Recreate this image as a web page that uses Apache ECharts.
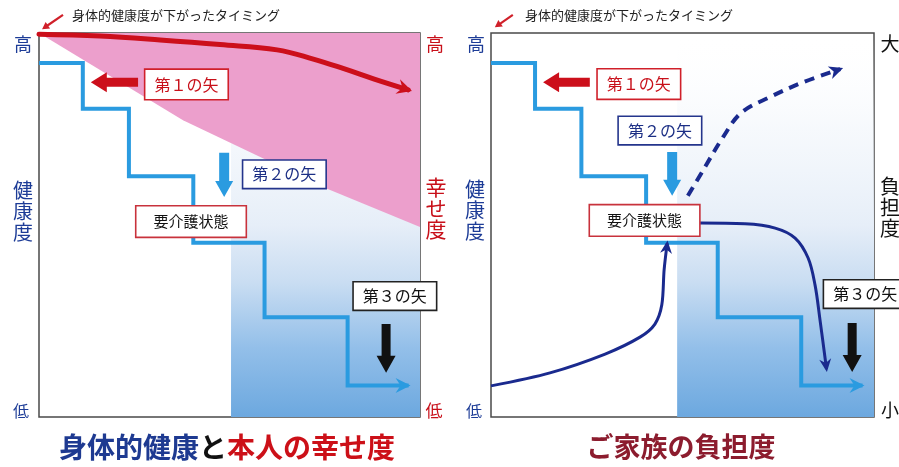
<!DOCTYPE html>
<html><head><meta charset="utf-8">
<script src="https://cdn.jsdelivr.net/npm/echarts@6/dist/echarts.min.js"></script>
<style>html,body{margin:0;padding:0;background:#fff}#c{width:899px;height:467px}</style>
</head><body><div id="c"></div>
<script>
// ---------- data (axis units 0..100 : time → x, level → y) ----------
const stepX = [0, 11.5, 23.6, 40.5, 59.2, 81, 97];          // health drops (both panels)
const stepY = [92.2, 80.3, 62.7, 45.4, 26, 8.2, 8.2];
const happyX = [0, 16, 31.8, 47.5, 62.5, 72, 80, 88, 96.9];     // 本人の幸せ度 curve
const happyY = [99.7, 99.2, 98.2, 97.0, 95.6, 93.2, 90.7, 88.0, 85.2];
const happyBoundX = [0, 37.8, 75.3, 100];                    // lower edge of pink zone
const happyBoundY = [100, 77.3, 59.6, 49.5];
const careStartLeft = 50.4;                                  // 要介護 zone start
const careStartRight = 48.6;
const burdenRiseX = [0, 15.4, 29.8, 38.9, 42.8, 44.6, 45.2, 46.0];
const burdenRiseY = [8.1, 11.5, 16.4, 20.8, 24.2, 29.2, 38.3, 45.2];
const burdenFallX = [54.6, 66.3, 74.2, 79.4, 82.8, 84.6, 85.9, 87.6];
const burdenFallY = [50.5, 50.3, 49.2, 46.6, 41.4, 34.4, 25.3, 12.5];
const noCareX = [51.4, 55.4, 60.6, 65.3, 72.8, 81.5, 91.2];
const noCareY = [57.6, 64.3, 72.9, 79.2, 83.3, 87.2, 90.6];
// big arrows [x1, y1, x2, y2]
const arrow1Left = [26, 87.2, 13.6, 87.2];
const arrow2Left = [48.6, 68.8, 48.6, 57.3];
const arrow3Left = [91.1, 24.2, 91.1, 11.5];
const arrow1Right = [25.8, 87.2, 13.6, 87.2];
const arrow2Right = [47.3, 69.0, 47.3, 57.6];
const arrow3Right = [94.3, 24.5, 94.3, 11.7];
const timingArrowLeft = [6.3, 104.7, 0.8, 101.0];
const timingArrowRight = [5.7, 104.7, 1.0, 101.5];
// annotation labels [x, y]
const labelNames = ['第１の矢', '第２の矢', '要介護状態', '第３の矢'];
const labelPosLeft = [[38.7, 86.6], [64.4, 63.2], [39.9, 50.9], [93.4, 31.5]];
const labelPosRight = [[38.6, 86.7], [44.1, 74.6], [40.1, 51.2], [97.7, 32.0]];

// ---------- helpers ----------
const zip = (xs, ys) => xs.map((x, i) => [x, ys[i]]);
const FONT = '"Noto Sans CJK JP", "Noto Sans", sans-serif';

function arrowPolygon(p1, p2, o) {
  const dx = p2[0] - p1[0], dy = p2[1] - p1[1], L = Math.hypot(dx, dy) || 1;
  const ux = dx / L, uy = dy / L, nx = -uy, ny = ux;
  const ext = o.ext || 0;
  const tip = [p2[0] + ux * ext, p2[1] + uy * ext];
  const bx = tip[0] - ux * o.headL, by = tip[1] - uy * o.headL;
  const hw = o.headW / 2, sw = (o.shaftW || 0) / 2;
  if (o.shaftW > 0) {
    return [[p1[0] + nx * sw, p1[1] + ny * sw], [bx + nx * sw, by + ny * sw], [bx + nx * hw, by + ny * hw], tip,
            [bx - nx * hw, by - ny * hw], [bx - nx * sw, by - ny * sw], [p1[0] - nx * sw, p1[1] - ny * sw]];
  }
  const nk = o.notch || 0;
  return [[bx + nx * hw, by + ny * hw], tip, [bx - nx * hw, by - ny * hw], [bx + ux * nk, by + uy * nk]];
}
function arrowSeries(gi, seg, color, o) {
  return {
    type: 'custom', coordinateSystem: 'cartesian2d', xAxisIndex: gi, yAxisIndex: gi, z: o.z || 6,
    silent: true, clip: false, data: [seg],
    renderItem: (params, api) => {
      const p1 = api.coord([api.value(0), api.value(1)]);
      const p2 = api.coord([api.value(2), api.value(3)]);
      return { type: 'polygon', shape: { points: arrowPolygon(p1, p2, o) }, style: { fill: color } };
    }
  };
}
function headFor(gi, xs, ys, color, o) {
  const n = xs.length;
  return arrowSeries(gi, [xs[n - 2], ys[n - 2], xs[n - 1], ys[n - 1]], color, o);
}
function lineSeries(gi, xs, ys, extra) {
  return Object.assign({
    type: 'line', xAxisIndex: gi, yAxisIndex: gi, data: zip(xs, ys), symbol: 'none', showSymbol: false,
    silent: true, z: 4, clip: false
  }, extra);
}
function careZone(gi, x0) {
  return {
    type: 'custom', coordinateSystem: 'cartesian2d', xAxisIndex: gi, yAxisIndex: gi, z: 1, silent: true,
    data: [[x0, 0, 100, 100]],
    renderItem: (params, api) => {
      const a = api.coord([api.value(0), api.value(3)]);
      const b = api.coord([api.value(2), api.value(1)]);
      return {
        type: 'rect', shape: { x: a[0], y: a[1], width: b[0] - a[0], height: b[1] - a[1] },
        style: {
          fill: new echarts.graphic.LinearGradient(0, 0, 0, 1, [
            { offset: 0, color: 'rgba(255,255,255,0)' },
            { offset: 0.25, color: 'rgba(240,245,251,0.6)' },
            { offset: 0.5, color: '#e6eef8' },
            { offset: 0.65, color: '#c9ddf2' },
            { offset: 0.82, color: '#93bfe9' },
            { offset: 1, color: '#6ca8df' }
          ])
        }
      };
    }
  };
}
const boxStyles = [
  { border: '#d0202a', color: '#c8101a', fs: 16, pad: [5, 9, 5, 9] },
  { border: '#24358c', color: '#1c2f85', fs: 16, pad: [4, 9, 4, 9] },
  { border: '#c8323c', color: '#111', fs: 15, pad: [6, 17, 6, 17] },
  { border: '#222', color: '#111', fs: 16, pad: [4, 9, 4, 9] }
];
function labelSeries(gi, positions) {
  return {
    type: 'scatter', xAxisIndex: gi, yAxisIndex: gi, z: 10, silent: true, symbolSize: 1, clip: false,
    itemStyle: { color: 'rgba(0,0,0,0)', opacity: 1 },
    data: positions.map((p, i) => ({
      value: p, name: labelNames[i],
      label: {
        show: true, position: 'inside', formatter: '{b}', fontFamily: FONT,
        fontSize: boxStyles[i].fs, lineHeight: boxStyles[i].fs + 3, color: boxStyles[i].color,
        backgroundColor: '#fff', borderColor: boxStyles[i].border, borderWidth: 1.6,
        padding: boxStyles[i].pad, opacity: 1
      }
    }))
  };
}

const BLUE = '#2a9be0', RED = '#cc0f1b', NAVY = '#1a2a8e';
const series = [
  // left panel
  careZone(0, careStartLeft),
  {
    type: 'custom', coordinateSystem: 'cartesian2d', xAxisIndex: 0, yAxisIndex: 0, z: 2, silent: true,
    data: [0],
    renderItem: (params, api) => {
      const pts = [api.coord([100, 100])].concat(zip(happyBoundX, happyBoundY).map(p => api.coord(p)));
      return { type: 'polygon', shape: { points: pts }, style: { fill: '#ec9fcc' } };
    }
  },
  lineSeries(0, stepX, stepY, { step: 'end', lineStyle: { color: BLUE, width: 4, join: 'miter', cap: 'butt' } }),
  headFor(0, stepX, stepY, BLUE, { headL: 15, headW: 15, notch: 5, ext: 2 }),
  lineSeries(0, happyX, happyY, { smooth: 0.4, lineStyle: { color: RED, width: 5, cap: 'round' } }),
  headFor(0, happyX, happyY, RED, { headL: 15, headW: 15, notch: 5, ext: 4 }),
  arrowSeries(0, arrow1Left, RED, { shaftW: 9, headL: 16, headW: 20 }),
  arrowSeries(0, arrow2Left, BLUE, { shaftW: 10, headL: 16, headW: 18 }),
  arrowSeries(0, arrow3Left, '#111', { shaftW: 9, headL: 17, headW: 19 }),
  arrowSeries(0, timingArrowLeft, '#d0202a', { shaftW: 2.2, headL: 7, headW: 8 }),
  labelSeries(0, labelPosLeft),
  // right panel
  careZone(1, careStartRight),
  lineSeries(1, stepX, stepY, { step: 'end', lineStyle: { color: BLUE, width: 4, join: 'miter', cap: 'butt' } }),
  headFor(1, stepX, stepY, BLUE, { headL: 15, headW: 15, notch: 5, ext: 2 }),
  lineSeries(1, burdenRiseX, burdenRiseY, { smooth: 0.3, lineStyle: { color: NAVY, width: 3 } }),
  headFor(1, burdenRiseX, burdenRiseY, NAVY, { headL: 13, headW: 12, notch: 4, ext: 3 }),
  lineSeries(1, burdenFallX, burdenFallY, { smooth: 0.35, lineStyle: { color: NAVY, width: 3 } }),
  headFor(1, burdenFallX, burdenFallY, NAVY, { headL: 13, headW: 12, notch: 4, ext: 3 }),
  lineSeries(1, noCareX, noCareY, { smooth: 0.35, lineStyle: { color: NAVY, width: 4, type: [10, 7] } }),
  headFor(1, noCareX, noCareY, NAVY, { headL: 14, headW: 13, notch: 4, ext: 3 }),
  arrowSeries(1, arrow1Right, RED, { shaftW: 9, headL: 16, headW: 20 }),
  arrowSeries(1, arrow2Right, BLUE, { shaftW: 10, headL: 16, headW: 18 }),
  arrowSeries(1, arrow3Right, '#111', { shaftW: 9, headL: 17, headW: 19 }),
  arrowSeries(1, timingArrowRight, '#d0202a', { shaftW: 2.2, headL: 7, headW: 8 }),
  labelSeries(1, labelPosRight)
];

function txt(x, y, text, color, fs, extra) {
  return Object.assign({
    type: 'text', x, y, silent: true, z: 20,
    style: Object.assign({ text, fill: color, font: `${fs}px ${FONT}`, textAlign: 'center', textVerticalAlign: 'middle' }, extra || {})
  });
}
const HB = '#1d3c97', HR = '#c8101a';
const graphics = [
  txt(72, 15, '身体的健康度が下がったタイミング', '#222', 13, { textAlign: 'left' }),
  txt(525, 15, '身体的健康度が下がったタイミング', '#222', 13, { textAlign: 'left' }),
  txt(23, 44, '高', HB, 18), txt(23, 211, '健\n康\n度', HB, 20, { lineHeight: 21 }), txt(21, 411, '低', HB, 16),
  txt(435, 44, '高', HR, 18), txt(436, 208, '幸\nせ\n度', HR, 21, { lineHeight: 21 }), txt(434, 411, '低', HR, 17),
  txt(476, 44, '高', HB, 18), txt(475, 210, '健\n康\n度', HB, 20, { lineHeight: 21 }), txt(474, 411, '低', HB, 16),
  txt(890, 44, '大', '#111', 19), txt(890, 207, '負\n担\n度', '#111', 20, { lineHeight: 21 }), txt(890, 410, '小', '#111', 18),
  {
    type: 'text', x: 227, y: 447, silent: true, z: 20,
    style: {
      text: '{b|身体的健康}{k|と}{r|本人の幸せ度}', textAlign: 'center', textVerticalAlign: 'middle',
      rich: {
        b: { fill: '#1e3a91', font: `bold 28px ${FONT}` },
        k: { fill: '#111', font: `bold 28px ${FONT}` },
        r: { fill: '#cc1018', font: `bold 28px ${FONT}` }
      }
    }
  },
  txt(681, 447, 'ご家族の負担度', '#8c1c2e', 27, { font: `bold 27px ${FONT}` })
];

const axisOff = { type: 'value', min: 0, max: 100, show: false };
const chart = echarts.init(document.getElementById('c'));
chart.setOption({
  animation: false,
  textStyle: { fontFamily: FONT },
  grid: [
    { left: 39, top: 33, width: 381, height: 384, show: true, borderColor: '#4a4a4a', borderWidth: 1.5, backgroundColor: '#fff' },
    { left: 491, top: 33, width: 383, height: 384, show: true, borderColor: '#4a4a4a', borderWidth: 1.5, backgroundColor: '#fff' }
  ],
  xAxis: [Object.assign({ gridIndex: 0 }, axisOff), Object.assign({ gridIndex: 1 }, axisOff)],
  yAxis: [Object.assign({ gridIndex: 0 }, axisOff), Object.assign({ gridIndex: 1 }, axisOff)],
  series,
  graphic: graphics
});
</script>
</body></html>
